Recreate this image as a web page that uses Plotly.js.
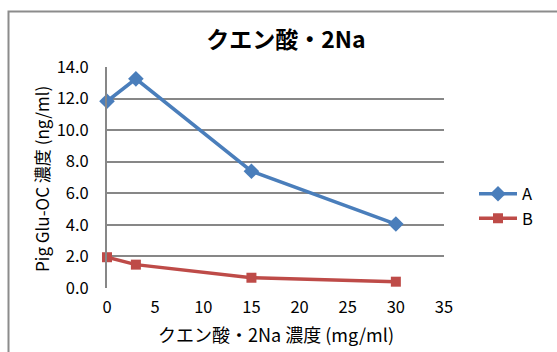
<!DOCTYPE html>
<html>
<head>
<meta charset="utf-8">
<script src="https://cdn.plot.ly/plotly-3.0.1.min.js"></script>
<style>
  html, body { margin: 0; padding: 0; background: #fff; }
  #chart { width: 557px; height: 352px; }
</style>
</head>
<body>
<div id="chart"></div>
<script>
// Concentration of citrate (mg/ml) and measured Pig Glu-OC (ng/ml)
const concentration = [0, 3, 15, 30];
const seriesA = [11.83, 13.25, 7.4, 4.05];
const seriesB = [1.95, 1.48, 0.65, 0.4];
const seriesNames = ['A', 'B'];
const xTicks = [0, 5, 10, 15, 20, 25, 30, 35];
const yTicks = [0, 2, 4, 6, 8, 10, 12, 14];

const W = 557, H = 352;
const M = { l: 107, r: 113, t: 67, b: 64 };
const PW = W - M.l - M.r, PH = H - M.t - M.b;
// pixel -> paper helpers for frame and labels
const px = x => (x - M.l) / PW;
const py = y => (H - M.b - y) / PH;

const FONT = '"Noto Sans CJK JP", "Noto Sans", sans-serif';
const GRID = '#878787';
const TICK = 16.5;

const traces = [
  {
    x: concentration, y: seriesA, name: seriesNames[0],
    type: 'scatter', mode: 'lines+markers', cliponaxis: false,
    line: { color: '#4a7ebb', width: 3.5 },
    marker: { symbol: 'diamond', size: 12, color: '#4a7ebb' }
  },
  {
    x: concentration, y: seriesB, name: seriesNames[1],
    type: 'scatter', mode: 'lines+markers', cliponaxis: false,
    line: { color: '#be4b48', width: 3.5 },
    marker: { symbol: 'square', size: 10, color: '#be4b48' }
  }
];

const layout = {
  width: W, height: H,
  margin: M,
  paper_bgcolor: '#fff', plot_bgcolor: '#fff',
  font: { family: FONT, color: '#000', size: TICK },
  showlegend: true,
  title: {
    text: '<b>クエン酸・2Na</b>',
    font: { family: FONT, size: 23, color: '#000' },
    xref: 'container', yref: 'container',
    x: 286 / W, xanchor: 'center',
    y: 1 - 40 / H, yanchor: 'middle'
  },
  xaxis: {
    range: [0, 35], tickvals: xTicks, ticktext: xTicks.map(String),
    showgrid: false, zeroline: false, showline: false,
    ticks: '', ticklen: 0, ticklabelstandoff: 7,
    tickfont: { family: FONT, size: TICK, color: '#000' }
  },
  yaxis: {
    range: [0, 14], tickvals: yTicks, ticktext: yTicks.map(v => v.toFixed(1)),
    showgrid: true, gridcolor: GRID, gridwidth: 2,
    zeroline: false, showline: true, linecolor: GRID, linewidth: 2,
    ticks: '', ticklen: 0, ticklabelstandoff: 13,
    tickfont: { family: FONT, size: TICK, color: '#000' }
  },
  legend: {
    x: px(474), xanchor: 'left', y: py(206), yanchor: 'middle',
    font: { family: FONT, size: TICK, color: '#000' },
    bgcolor: 'rgba(0,0,0,0)', itemwidth: 38
  },
  annotations: [
    {
      text: 'クエン酸・2Na 濃度 (mg/ml)',
      xref: 'paper', yref: 'paper', x: px(276), y: py(334),
      xanchor: 'center', yanchor: 'middle', showarrow: false,
      font: { family: FONT, size: 18, color: '#000' }
    },
    {
      text: 'Pig Glu-OC 濃度 (ng/ml)',
      xref: 'paper', yref: 'paper', x: px(41), y: py(179),
      xanchor: 'center', yanchor: 'middle', showarrow: false, textangle: -90,
      font: { family: FONT, size: 17, color: '#000' }
    }
  ],
  shapes: [
    {
      type: 'rect', xref: 'paper', yref: 'paper', layer: 'below',
      x0: px(8.5), x1: px(570), y0: py(370), y1: py(11.5),
      line: { color: '#8c8c8c', width: 2 }, fillcolor: 'rgba(0,0,0,0)'
    }
  ]
};

Plotly.newPlot('chart', traces, layout, { displayModeBar: false, staticPlot: true });
</script>
</body>
</html>
